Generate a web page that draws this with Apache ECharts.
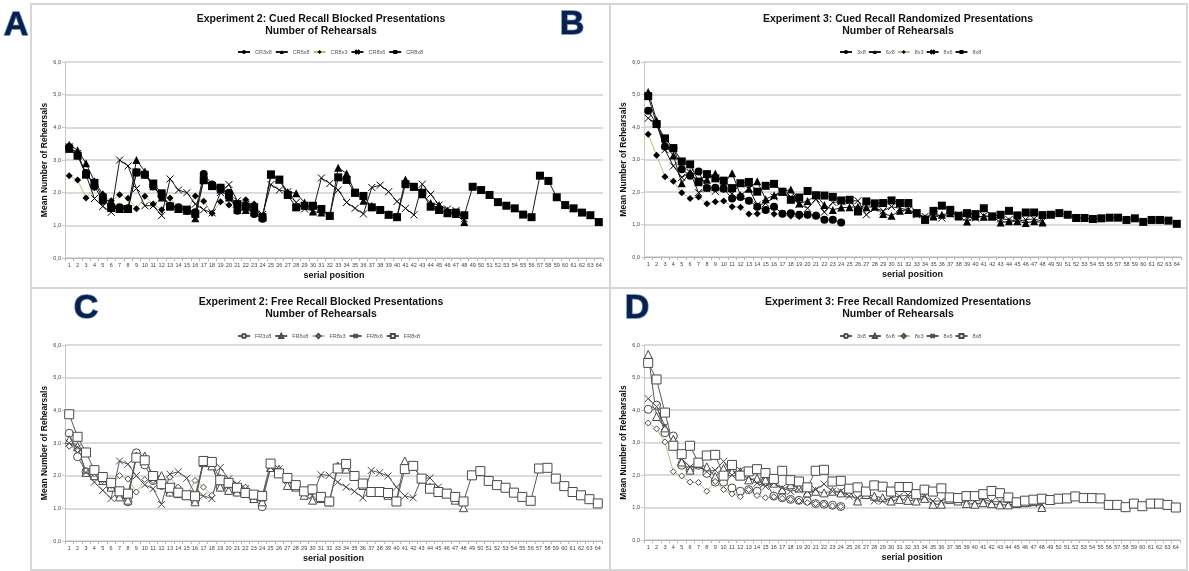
<!DOCTYPE html>
<html><head><meta charset="utf-8">
<script src="https://cdn.jsdelivr.net/npm/echarts@6/dist/echarts.min.js"></script>
<style>html,body{margin:0;padding:0;background:#fff}#c{width:1189px;height:571px}</style>
</head><body><div id="c"></div>
<script>
// ---- categories & ticks ----
const positions = Array.from({length: 64}, (_, i) => String(i + 1));
const yTicks = [0, 1, 2, 3, 4, 5, 6];

// ---- Panel A: Experiment 2, Cued Recall, Blocked ----
const A_CR3x8 = [3.4,3.15,2.6,2.2,1.75,1.6,1.55,1.52,2.62,2.55,2.2,1.9,1.6,1.55,1.45,1.4,2.57,2.25,2.15,2.0,1.45,1.6,1.35,1.2];
const A_CR6x8 = [3.47,3.3,2.9,2.35,1.95,1.6,1.5,1.5,3.0,2.65,2.2,1.85,1.6,1.5,1.45,1.22,2.4,2.25,2.1,1.85,1.48,1.47,1.4,1.25,2.55,2.4,2.02,1.98,1.7,1.42,1.39,1.3,2.76,2.59,2.0,1.75,1.6,1.47,1.35,1.28,2.4,2.18,1.95,1.68,1.62,1.45,1.35,1.1];
const A_CR8x3 = [2.52,2.39,1.84,2.15,1.95,1.75,1.94,1.83,1.51,1.89,1.65,1.48,1.84,1.55,1.47,1.9,1.74,1.37,1.72,1.62,1.45,1.78,1.65,1.3];
const A_CR8x6 = [3.4,3.2,2.55,1.82,1.58,1.4,3.0,2.82,2.13,1.6,1.6,1.3,2.42,2.08,2.0,1.65,1.48,1.38,2.0,2.25,1.75,1.65,1.55,1.33,2.25,2.08,2.03,1.7,1.5,1.45,2.45,2.28,2.08,1.7,1.52,1.35,2.16,2.23,2.03,1.73,1.52,1.32,2.26,1.95,1.62,1.5,1.45,1.2];
const A_CR8x8 = [3.34,3.13,2.55,2.3,1.85,1.53,1.5,1.5,2.62,2.55,2.28,1.98,1.57,1.5,1.48,1.35,2.38,2.2,2.15,1.92,1.65,1.57,1.55,1.25,2.56,2.4,1.93,1.55,1.6,1.6,1.5,1.29,2.47,2.39,2.0,1.9,1.55,1.47,1.32,1.25,2.26,2.18,2.0,1.57,1.47,1.37,1.39,1.31,2.18,2.08,1.93,1.71,1.6,1.52,1.33,1.25,2.52,2.36,1.86,1.62,1.52,1.39,1.31,1.1];

// ---- Panel B: Experiment 3, Cued Recall, Randomized ----
const B_3x8 = [4.5,4.1,3.4,3.35,2.7,2.5,2.63,2.12,2.13,2.1,1.8,1.85,1.73,1.55,1.45,1.55,1.33,1.35,1.3,1.3,1.27,1.15,1.15,1.06];
const B_6x8 = [5.08,4.2,3.45,3.12,2.27,2.6,2.3,2.38,2.57,2.25,2.58,1.9,2.1,2.33,1.78,1.9,2.01,2.08,1.65,1.72,1.9,1.6,1.45,1.52,1.53,1.55,1.53,1.55,1.32,1.27,1.42,1.45,1.35,1.2,1.25,1.3,1.35,1.25,1.09,1.25,1.24,1.25,1.06,1.1,1.1,1.05,1.1,1.06];
const B_8x3 = [3.78,3.13,2.47,2.33,1.98,1.8,1.85,1.64,1.7,1.72,1.55,1.53,1.32,1.33,1.43,1.32,1.32,1.26,1.25,1.28,1.3,1.15,1.15,1.07];
const B_8x6 = [4.27,4.1,3.3,2.8,2.45,2.6,1.98,2.1,2.02,2.1,1.95,2.25,2.12,1.6,1.65,1.85,2.0,1.85,1.62,1.5,1.78,1.38,1.68,1.7,1.73,1.73,1.3,1.5,1.42,1.55,1.5,1.45,1.3,1.25,1.28,1.2,1.35,1.3,1.22,1.2,1.27,1.25,1.17,1.15,1.1,1.15,1.17,1.1];
const B_8x8 = [4.95,4.09,3.65,3.35,2.94,2.85,2.32,2.55,2.42,2.35,2.12,2.27,2.31,2.01,2.19,2.25,2.01,1.76,1.83,2.03,1.9,1.89,1.85,1.74,1.76,1.4,1.71,1.65,1.66,1.74,1.66,1.66,1.35,1.14,1.42,1.58,1.45,1.27,1.35,1.32,1.5,1.25,1.3,1.42,1.28,1.37,1.37,1.29,1.3,1.35,1.3,1.2,1.2,1.17,1.19,1.21,1.21,1.14,1.19,1.08,1.14,1.14,1.12,1.02];

// ---- Panel C: Experiment 2, Free Recall, Blocked ----
const C_FR3x8 = [3.3,2.58,2.12,2.0,1.85,1.65,1.4,1.2,2.7,2.33,1.85,1.7,1.5,1.45,1.4,1.22,2.45,2.35,1.65,1.55,1.5,1.45,1.3,1.05];
const C_FR6x8 = [3.1,2.9,2.1,2.0,1.85,1.65,1.35,1.25,2.6,2.6,1.95,2.0,1.5,1.45,1.4,1.2,2.4,2.3,1.65,1.55,1.5,1.5,1.3,1.2,2.25,2.2,1.7,1.65,1.4,1.25,1.3,1.2,2.3,2.2,2.0,1.7,1.5,1.5,1.4,1.25,2.45,2.3,1.9,1.65,1.55,1.45,1.25,1.02];
const C_FR8x3 = [2.9,2.8,2.15,2.05,1.85,1.7,2.0,1.9,1.5,1.88,1.85,1.75,1.95,1.65,1.4,1.85,1.65,1.4,1.95,1.7,1.6,1.65,1.35,1.3];
const C_FR8x6 = [3.0,2.85,2.1,1.8,1.55,1.3,2.45,2.35,2.0,1.72,1.6,1.12,2.05,2.12,1.92,1.45,1.38,1.3,2.25,1.9,1.75,1.6,1.45,1.3,2.25,2.2,1.85,1.65,1.5,1.4,2.03,2.01,1.8,1.65,1.52,1.32,2.16,2.09,1.99,1.65,1.38,1.32,1.91,1.93,1.65,1.5,1.35,1.2];
const C_FR8x8 = [3.88,3.19,2.71,2.17,1.96,1.78,1.52,1.45,2.55,2.47,1.99,1.74,1.63,1.48,1.4,1.37,2.45,2.42,1.86,1.78,1.63,1.47,1.42,1.38,2.37,2.07,1.93,1.71,1.52,1.58,1.35,1.21,2.22,2.36,1.99,1.76,1.5,1.5,1.47,1.21,2.2,2.3,1.91,1.6,1.5,1.45,1.35,1.21,2.01,2.14,1.84,1.71,1.63,1.48,1.35,1.23,2.22,2.24,1.91,1.68,1.5,1.4,1.28,1.15];

// ---- Panel D: Experiment 3, Free Recall, Randomized ----
const D_3x8 = [4.02,4.15,3.3,3.2,2.3,2.15,2.3,2.05,1.78,1.78,1.6,1.5,1.55,1.5,1.8,1.35,1.3,1.25,1.22,1.2,1.12,1.1,1.07,1.03];
const D_6x8 = [5.71,3.8,3.45,3.1,2.4,2.15,2.35,2.25,1.95,2.2,2.1,2.1,1.85,1.9,1.85,1.75,1.55,1.7,1.6,1.45,1.5,1.45,1.5,1.45,1.45,1.2,1.4,1.35,1.3,1.2,1.25,1.22,1.2,1.28,1.1,1.1,1.25,1.2,1.12,1.1,1.15,1.12,1.08,1.08,1.12,1.15,1.18,1.0];
const D_8x3 = [3.6,3.42,3.02,2.1,1.97,1.78,1.77,1.5,1.8,1.55,1.42,1.33,1.55,1.37,1.3,1.33,1.28,1.25,1.2,1.15,1.12,1.1,1.05,1.03];
const D_8x6 = [4.35,4.1,3.5,2.95,2.5,2.25,2.3,2.1,2.15,2.42,2.0,2.15,1.95,1.75,1.65,1.75,1.6,1.5,1.55,1.5,1.55,1.72,1.5,1.5,1.35,1.3,1.45,1.2,1.2,1.3,1.35,1.38,1.35,1.33,1.2,1.2,1.3,1.25,1.25,1.2,1.25,1.18,1.18,1.15,1.15,1.2,1.12,1.08];
const D_8x8 = [5.45,4.94,3.92,2.9,2.64,2.9,2.38,2.6,2.62,1.98,2.31,1.98,2.11,2.18,2.06,1.88,2.13,1.84,1.8,1.62,2.13,2.16,1.8,1.82,1.58,1.62,1.49,1.68,1.64,1.49,1.63,1.63,1.41,1.55,1.49,1.59,1.31,1.29,1.35,1.35,1.41,1.51,1.44,1.31,1.16,1.21,1.24,1.27,1.23,1.27,1.28,1.34,1.29,1.29,1.28,1.08,1.08,1.01,1.12,1.04,1.12,1.12,1.08,1.0];

// ---- text ----
const panelTitles = [
  ['Experiment 2: Cued Recall Blocked Presentations', 'Number of Rehearsals'],
  ['Experiment 3: Cued Recall Randomized Presentations', 'Number of Rehearsals'],
  ['Experiment 2: Free Recall Blocked Presentations', 'Number of Rehearsals'],
  ['Experiment 3: Free Recall Randomized Presentations', 'Number of Rehearsals']
];
const legendNames = [
  ['CR3x8','CR6x8','CR8x3','CR8x6','CR8x8'],
  ['3x8','6x8','8x3','8x6','8x8'],
  ['FR3x8','FR6x8','FR8x3','FR8x6','FR8x8'],
  ['3x8','6x8','8x3','8x6','8x8']
];
const panelLetters = ['A','B','C','D'];
const yTitle = 'Mean Number of Rehearsals';
const xTitle = 'serial position';

const panelData = [
  [A_CR3x8, A_CR6x8, A_CR8x3, A_CR8x6, A_CR8x8],
  [B_3x8, B_6x8, B_8x3, B_8x6, B_8x8],
  [C_FR3x8, C_FR6x8, C_FR8x3, C_FR8x6, C_FR8x8],
  [D_3x8, D_6x8, D_8x3, D_8x6, D_8x8]
];

// ---- layout / style ----
const grids = [
  {left: 65, top: 62, width: 538, height: 196},
  {left: 644, top: 62, width: 537, height: 195},
  {left: 65, top: 345, width: 537, height: 196},
  {left: 644, top: 345, width: 536, height: 195}
];
const frames = [
  [31, 4, 579, 284], [610, 4, 577, 284], [31, 288, 579, 282], [610, 288, 577, 282]
];
const panelCenters = [321, 898, 321, 898];
const titleY = [19, 19, 302, 302];
const legendLeft = [232, 834, 232, 834];
const legendTop = [44, 44, 328, 328];
const letterPos = [[16, 26], [572, 25], [86, 309], [637, 309]];

const XPATH = 'path://M0,0L10,10M10,0L0,10';
const symbols = ['circle', 'triangle', 'diamond', XPATH, 'rect'];
const sizesFilled = [8, 8, 7, 7, 8];
const sizesOpen = [8, 8, 6, 7, 9];

const series = [];
const legends = [];
for (let p = 0; p < 4; p++) {
  const open = p >= 2;
  const names = legendNames[p].map(n => panelLetters[p] + ':' + n);
  legends.push({
    data: names, left: legendLeft[p], top: legendTop[p], itemWidth: 12, itemHeight: 5,
    itemGap: p % 2 === 0 ? 3 : 2, selectedMode: false,
    textStyle: {fontSize: 5.5, color: '#555', fontFamily: 'Liberation Sans, Arial'},
    formatter: n => n.split(':')[1]
  });
  panelData[p].forEach((arr, s) => {
    const isX = s === 3;
    const lineColor = s === 2 ? '#b9bd7a' : (open ? '#5a5a5a' : '#1a1a1a');
    const mk = open ? '#4a4a4a' : '#000';
    series.push({
      type: 'line', name: names[s], xAxisIndex: p, yAxisIndex: p,
      data: arr, symbol: symbols[s],
      symbolSize: open ? sizesOpen[s] : sizesFilled[s],
      showAllSymbol: true, animation: false,
      lineStyle: {color: lineColor, width: 1},
      itemStyle: isX
        ? {color: mk, borderColor: mk, borderWidth: 1}
        : (open ? {color: '#fff', borderColor: mk, borderWidth: 1} : {color: '#000', borderColor: '#000', borderWidth: 0}),
      emphasis: {disabled: true}
    });
  });
}

const xAxes = grids.map((g, i) => ({
  type: 'category', gridIndex: i, data: positions, boundaryGap: true,
  name: xTitle, nameLocation: 'middle', nameGap: 13,
  nameTextStyle: {fontSize: 9, fontWeight: 'bold', color: '#111', fontFamily: 'Liberation Sans, Arial'},
  axisLine: {lineStyle: {color: '#b5b5b5', width: 1}},
  axisTick: {show: true, interval: 0, length: 3, lineStyle: {color: '#b5b5b5'}},
  axisLabel: {interval: 0, fontSize: 5.5, color: '#444', margin: 4, fontFamily: 'Liberation Sans, Arial'}
}));
const yAxes = grids.map((g, i) => ({
  type: 'value', gridIndex: i, min: yTicks[0], max: yTicks[yTicks.length - 1], interval: 1,
  name: yTitle, nameLocation: 'middle', nameGap: 12,
  nameTextStyle: {fontSize: 8.5, fontWeight: 'bold', color: '#111', fontFamily: 'Liberation Sans, Arial'},
  axisLine: {show: true, lineStyle: {color: '#c8c8c8', width: 1}},
  axisTick: {show: true, length: 3, lineStyle: {color: '#c8c8c8'}},
  splitLine: {lineStyle: {color: '#cfcfcf', width: 1.5}},
  axisLabel: {fontSize: 5.5, color: '#444', margin: 4, fontFamily: 'Liberation Sans, Arial',
    formatter: v => v.toFixed(1).replace('.', ',')}
}));

const graphics = [];
frames.forEach(f => graphics.push({
  type: 'rect', silent: true, z: -1,
  shape: {x: f[0], y: f[1], width: f[2], height: f[3]},
  style: {fill: 'none', stroke: '#d6d6d6', lineWidth: 2}
}));
panelTitles.forEach((t, i) => {
  t.forEach((line, k) => graphics.push({
    type: 'text', silent: true, x: panelCenters[i], y: titleY[i] + k * 12.5,
    style: {text: line, fill: '#111', font: 'bold 10.5px "Liberation Sans", Arial',
      textAlign: 'center', textVerticalAlign: 'middle'}
  }));
});
panelLetters.forEach((L, i) => graphics.push({
  type: 'text', silent: true, x: letterPos[i][0], y: letterPos[i][1], z: 10,
  style: {text: L, fill: '#0c1f45', font: 'bold 34px "Liberation Sans", Arial',
    stroke: '#4f82c9', lineWidth: 1.5, textAlign: 'center', textVerticalAlign: 'middle'}
}));

const chart = echarts.init(document.getElementById('c'), null, {renderer: 'canvas'});
chart.setOption({
  animation: false,
  backgroundColor: '#fff',
  grid: grids,
  xAxis: xAxes,
  yAxis: yAxes,
  legend: legends,
  series: series,
  graphic: graphics
});
</script></body></html>
